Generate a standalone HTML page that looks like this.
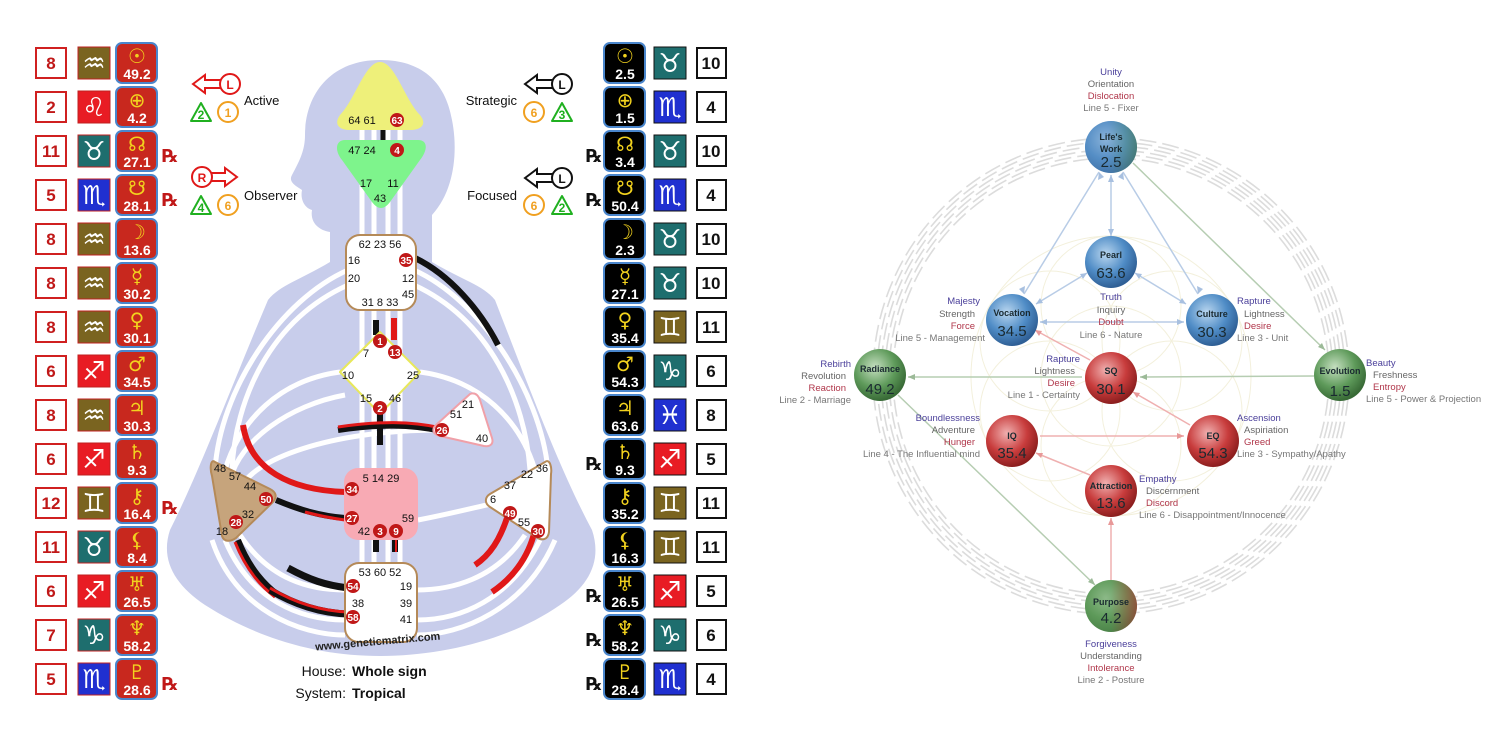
<!DOCTYPE html>
<html><head><meta charset="utf-8"><style>
html,body{margin:0;padding:0;background:#fff}
svg{display:block}
text{font-family:"Liberation Sans","DejaVu Sans",sans-serif}
.nb{fill:#fff;stroke:#d02020;stroke-width:2}
.nt{fill:#c01818;font-weight:bold;font-size:17px;text-anchor:middle}
.nbr{fill:#fff;stroke:#111;stroke-width:2}
.ntr{fill:#111;font-weight:bold;font-size:17px;text-anchor:middle}
.sg{fill:#fff;font-size:26px;font-weight:bold;text-anchor:middle;font-family:"DejaVu Sans",sans-serif}
.pl{fill:#f2d21e;font-size:20px;text-anchor:middle;font-family:"DejaVu Sans",sans-serif}
.pn{fill:#fff;font-size:14px;font-weight:bold;text-anchor:middle}
.rx{fill:#c01818;font-size:18px;font-weight:bold}
.rk{fill:#111;font-size:18px;font-weight:bold}
.g{font-size:11px;fill:#111;text-anchor:middle}
.gw{font-size:10px;fill:#fff;font-weight:bold;text-anchor:middle}
.l{font-size:9.5px;text-anchor:middle}
.b{fill:#4a3f9a}.s{fill:#666}.r{fill:#b0364a}.m{fill:#777}
.nn{font-size:9px;font-weight:bold;fill:#1a2a30;text-anchor:middle}
.nv{font-size:15px;fill:#1a2a30;text-anchor:middle}
</style></head><body>
<svg width="1500" height="750" viewBox="0 0 1500 750" xmlns="http://www.w3.org/2000/svg">
<defs>
<radialGradient id="gb" cx="40%" cy="35%" r="65%"><stop offset="0" stop-color="#b9d6ef"/><stop offset="0.6" stop-color="#4f8cc6"/><stop offset="1" stop-color="#2f5f95"/></radialGradient>
<radialGradient id="gr" cx="40%" cy="35%" r="65%"><stop offset="0" stop-color="#f0b0b0"/><stop offset="0.6" stop-color="#c83c3c"/><stop offset="1" stop-color="#8c1e1e"/></radialGradient>
<radialGradient id="gg" cx="40%" cy="35%" r="65%"><stop offset="0" stop-color="#c5dfc0"/><stop offset="0.6" stop-color="#5e9a5a"/><stop offset="1" stop-color="#386a36"/></radialGradient>
<linearGradient id="gbg" x1="0" y1="0" x2="1" y2="0"><stop offset="0.45" stop-color="#5a8fc4"/><stop offset="1" stop-color="#5c9458"/></linearGradient>
<linearGradient id="ggr" x1="0" y1="0" x2="1" y2="0"><stop offset="0.5" stop-color="#5e9a5a"/><stop offset="1" stop-color="#c83c3c"/></linearGradient>
</defs>

<g fill="#c8cdeb">
<path d="M380 60 C330 60 305 95 305 135 C305 150 300 160 292 175 C288 182 296 186 302 190 C300 200 305 208 312 210 C310 222 318 230 330 232 L330 262 C300 280 280 285 268 300 C230 390 200 470 170 530 C160 560 175 585 205 605 C260 640 320 656 380 656 C440 656 510 640 560 605 C590 585 602 560 592 530 C560 470 530 390 495 300 C483 285 462 280 432 262 L432 215 C455 190 458 150 452 120 C445 80 420 60 380 60 Z"/>
</g>
<g fill="none" stroke="#fff" stroke-width="5">
<line x1="362" y1="128" x2="362" y2="565"/><line x1="374" y1="128" x2="374" y2="565"/><line x1="388" y1="128" x2="388" y2="565"/><line x1="400" y1="128" x2="400" y2="565"/>
<path d="M348 270 C280 300 220 390 215 470"/><path d="M348 285 C270 320 235 400 232 470"/>
<path d="M414 270 C480 300 540 390 548 470"/><path d="M414 285 C490 320 525 400 530 470"/>
<path d="M340 372 C280 380 240 420 225 470"/><path d="M420 372 C480 380 520 420 535 470"/>
<path d="M345 395 C290 405 240 440 230 480"/><path d="M440 430 C330 430 250 460 240 490"/>
<path d="M418 520 C470 510 500 500 520 500"/>
<path d="M225 540 C250 600 300 620 345 620"/><path d="M212 540 C235 610 300 635 345 635"/>
<path d="M540 540 C510 600 460 620 417 620"/><path d="M555 540 C525 610 460 635 417 635"/>
<path d="M240 535 C270 580 310 590 345 590"/><path d="M525 535 C495 580 450 590 417 590"/>
</g>
<g fill="none" stroke-linecap="butt">
<path d="M415 258 C450 275 480 310 498 345" stroke="#111" stroke-width="6"/>
<line x1="376" y1="320" x2="376" y2="335" stroke="#111" stroke-width="6"/>
<line x1="394" y1="318" x2="394" y2="340" stroke="#e01818" stroke-width="6"/>
<line x1="383" y1="130" x2="383" y2="140" stroke="#111" stroke-width="5"/>
<line x1="383" y1="140" x2="383" y2="150" stroke="#e01818" stroke-width="5"/>
<line x1="380" y1="413" x2="380" y2="445" stroke="#111" stroke-width="6"/>
<path d="M338 430 C380 424 410 424 442 431" stroke="#111" stroke-width="6"/>
<path d="M338 427 C380 421 410 421 442 428" stroke="#e01818" stroke-width="3"/>
<path d="M243 425 C250 470 290 490 345 492" stroke="#e01818" stroke-width="6"/>
<path d="M276 500 C300 510 320 516 345 518" stroke="#111" stroke-width="6"/>
<path d="M305 512 C320 516 330 518 345 520" stroke="#e01818" stroke-width="3"/>
<line x1="376" y1="540" x2="376" y2="552" stroke="#111" stroke-width="6"/>
<line x1="395" y1="540" x2="395" y2="552" stroke="#111" stroke-width="6"/>
<line x1="396" y1="540" x2="396" y2="552" stroke="#e01818" stroke-width="2"/>
<path d="M238 540 C250 570 265 585 278 595" stroke="#111" stroke-width="6"/>
<path d="M235 542 C247 572 262 587 275 597" stroke="#e01818" stroke-width="3"/>
<path d="M288 568 C310 580 325 585 348 588" stroke="#111" stroke-width="7"/>
<path d="M270 590 C295 605 320 613 348 614" stroke="#111" stroke-width="7"/>
<path d="M270 588 C295 603 320 611 348 612" stroke="#e01818" stroke-width="3"/>
<path d="M508 515 C500 540 490 555 475 565" stroke="#e01818" stroke-width="6"/>
<path d="M535 530 C528 560 510 580 492 592" stroke="#e01818" stroke-width="6"/>
</g>
<path d="M380 62 C395 62 405 100 420 115 C428 125 420 130 410 130 L350 130 C340 130 333 125 340 115 C355 100 365 62 380 62 Z" fill="#eef07a"/>
<path d="M345 140 L418 140 C428 140 428 150 420 160 L390 202 C384 210 378 210 372 202 L342 160 C334 150 336 140 345 140 Z" fill="#7ef48c"/>
<rect x="346" y="235" width="70" height="75" rx="14" fill="#fff" stroke="#b58a58" stroke-width="2"/>
<path d="M380 332 L420 372 L380 414 L340 372 Z" fill="#fff" stroke="#e8e85a" stroke-width="2" stroke-linejoin="round"/>
<path d="M470 394 C475 392 478 395 480 400 L492 438 C494 444 490 447 484 446 L440 436 C432 434 432 429 436 425 Z" fill="#fff" stroke="#f0a0a8" stroke-width="2" stroke-linejoin="round"/>
<rect x="344" y="468" width="74" height="72" rx="14" fill="#f8aab4"/>
<path d="M215 462 C210 458 210 470 212 476 L222 536 C224 542 230 542 236 538 L272 503 C278 497 276 492 270 489 Z" fill="#c6a47c" stroke="#b58a58" stroke-width="2"/>
<path d="M545 462 C550 458 552 468 551 474 L549 532 C548 540 542 541 536 537 L490 507 C484 503 485 497 490 494 Z" fill="#fff" stroke="#b58a58" stroke-width="2"/>
<rect x="345" y="563" width="72" height="79" rx="14" fill="#fff" stroke="#b58a58" stroke-width="2"/>
<g class="g">
<text x="362" y="124">64 61</text><circle cx="397" cy="120" r="7" fill="#c01818"/><text class="gw" x="397" y="124">63</text>
<text x="362" y="154">47 24</text><circle cx="397" cy="150" r="7" fill="#c01818"/><text class="gw" x="397" y="154">4</text>
<text x="366" y="187">17</text><text x="393" y="187">11</text><text x="380" y="202">43</text>
<text x="380" y="248">62 23 56</text><text x="354" y="264">16</text><text x="354" y="282">20</text><text x="408" y="282">12</text><text x="408" y="298">45</text><text x="380" y="306">31  8  33</text>
<circle cx="406" cy="260" r="7" fill="#c01818"/><text class="gw" x="406" y="264">35</text>
<circle cx="380" cy="341" r="7" fill="#c01818"/><text class="gw" x="380" y="345">1</text>
<circle cx="395" cy="352" r="7" fill="#c01818"/><text class="gw" x="395" y="356">13</text>
<text x="366" y="357">7</text><text x="348" y="379">10</text><text x="413" y="379">25</text><text x="366" y="402">15</text><text x="395" y="402">46</text>
<circle cx="380" cy="408" r="7" fill="#c01818"/><text class="gw" x="380" y="412">2</text>
<text x="468" y="408">21</text><text x="456" y="418">51</text><text x="482" y="442">40</text>
<circle cx="442" cy="430" r="7" fill="#c01818"/><text class="gw" x="442" y="434">26</text>
<text x="381" y="482">5  14 29</text><text x="408" y="522">59</text><text x="364" y="535">42</text>
<circle cx="352" cy="489" r="7" fill="#c01818"/><text class="gw" x="352" y="493">34</text>
<circle cx="352" cy="518" r="7" fill="#c01818"/><text class="gw" x="352" y="522">27</text>
<circle cx="380" cy="531" r="7" fill="#c01818"/><text class="gw" x="380" y="535">3</text>
<circle cx="396" cy="531" r="7" fill="#c01818"/><text class="gw" x="396" y="535">9</text>
<text x="220" y="472">48</text><text x="235" y="480">57</text><text x="250" y="490">44</text><text x="248" y="518">32</text><text x="222" y="535">18</text>
<circle cx="266" cy="499" r="7" fill="#c01818"/><text class="gw" x="266" y="503">50</text>
<circle cx="236" cy="522" r="7" fill="#c01818"/><text class="gw" x="236" y="526">28</text>
<text x="542" y="472">36</text><text x="527" y="478">22</text><text x="510" y="489">37</text><text x="493" y="503">6</text><text x="524" y="526">55</text>
<circle cx="510" cy="513" r="7" fill="#c01818"/><text class="gw" x="510" y="517">49</text>
<circle cx="538" cy="531" r="7" fill="#c01818"/><text class="gw" x="538" y="535">30</text>
<text x="380" y="576">53 60 52</text><text x="406" y="590">19</text><text x="358" y="607">38</text><text x="406" y="607">39</text><text x="406" y="623">41</text>
<circle cx="353" cy="586" r="7" fill="#c01818"/><text class="gw" x="353" y="590">54</text>
<circle cx="353" cy="617" r="7" fill="#c01818"/><text class="gw" x="353" y="621">58</text>
</g>
<text x="378" y="645" font-size="11" font-weight="bold" fill="#222" text-anchor="middle" transform="rotate(-5 378 645)">www.geneticmatrix.com</text>
<text x="346" y="676" font-size="14" fill="#111" text-anchor="end">House:</text><text x="352" y="676" font-size="14" font-weight="bold" fill="#111">Whole sign</text>
<text x="346" y="698" font-size="14" fill="#111" text-anchor="end">System:</text><text x="352" y="698" font-size="14" font-weight="bold" fill="#111">Tropical</text>

<g fill="#fff" stroke-width="2">
<path d="M193 84 L205 75 L205 80 L222 80 L222 88 L205 88 L205 93 Z" stroke="#e01818"/><circle cx="230" cy="84" r="10" stroke="#e01818"/>
<path d="M237 177 L225 168 L225 173 L210 173 L210 181 L225 181 L225 186 Z" stroke="#e01818"/><circle cx="202" cy="177" r="10" stroke="#e01818"/>
<path d="M525 84 L537 75 L537 80 L554 80 L554 88 L537 88 L537 93 Z" stroke="#111"/><circle cx="562" cy="84" r="10" stroke="#111"/>
<path d="M525 178 L537 169 L537 174 L554 174 L554 182 L537 182 L537 187 Z" stroke="#111"/><circle cx="562" cy="178" r="10" stroke="#111"/>
<path d="M201 103 L211 121 L191 121 Z" stroke="#20b020" stroke-linejoin="round"/><circle cx="228" cy="112" r="10" stroke="#f0a020"/>
<path d="M201 196 L211 214 L191 214 Z" stroke="#20b020" stroke-linejoin="round"/><circle cx="228" cy="205" r="10" stroke="#f0a020"/>
<circle cx="534" cy="112" r="10" stroke="#f0a020"/><path d="M562 103 L572 121 L552 121 Z" stroke="#20b020" stroke-linejoin="round"/>
<circle cx="534" cy="205" r="10" stroke="#f0a020"/><path d="M562 196 L572 214 L552 214 Z" stroke="#20b020" stroke-linejoin="round"/>
</g>
<g font-size="12" font-weight="bold" text-anchor="middle">
<text x="230" y="89" fill="#e01818">L</text><text x="202" y="182" fill="#e01818">R</text><text x="562" y="89" fill="#111">L</text><text x="562" y="183" fill="#111">L</text>
<text x="201" y="119" fill="#20b020">2</text><text x="228" y="117" fill="#f0a020">1</text>
<text x="201" y="212" fill="#20b020">4</text><text x="228" y="210" fill="#f0a020">6</text>
<text x="534" y="117" fill="#f0a020">6</text><text x="562" y="119" fill="#20b020">3</text>
<text x="534" y="210" fill="#f0a020">6</text><text x="562" y="212" fill="#20b020">2</text>
</g>
<g font-size="13" fill="#111"><text x="244" y="105">Active</text><text x="244" y="200">Observer</text><text x="517" y="105" text-anchor="end">Strategic</text><text x="517" y="200" text-anchor="end">Focused</text></g>

<g id="left">
<rect class="nb" x="36" y="48" width="30" height="30"/><text class="nt" x="51" y="69">8</text><rect x="78" y="47" width="32" height="32" fill="#7a6420" stroke="#c02020"/><text class="sg" x="94" y="72">♒</text><rect x="116" y="43" width="41" height="40" rx="6" fill="#c8281e" stroke="#4a86cc" stroke-width="2"/><text class="pl" x="137" y="63">☉</text><text class="pn" x="137" y="79">49.2</text>
<rect class="nb" x="36" y="92" width="30" height="30"/><text class="nt" x="51" y="113">2</text><rect x="78" y="91" width="32" height="32" fill="#e81c24" stroke="#c02020"/><text class="sg" x="94" y="116">♌</text><rect x="116" y="87" width="41" height="40" rx="6" fill="#c8281e" stroke="#4a86cc" stroke-width="2"/><text class="pl" x="137" y="107">⊕</text><text class="pn" x="137" y="123">4.2</text>
<rect class="nb" x="36" y="136" width="30" height="30"/><text class="nt" x="51" y="157">11</text><rect x="78" y="135" width="32" height="32" fill="#1e6e6e" stroke="#c02020"/><text class="sg" x="94" y="160">♉</text><rect x="116" y="131" width="41" height="40" rx="6" fill="#c8281e" stroke="#4a86cc" stroke-width="2"/><text class="pl" x="137" y="151">☊</text><text class="pn" x="137" y="167">27.1</text><text class="rx" x="162" y="162">℞</text>
<rect class="nb" x="36" y="180" width="30" height="30"/><text class="nt" x="51" y="201">5</text><rect x="78" y="179" width="32" height="32" fill="#2030d0" stroke="#c02020"/><text class="sg" x="94" y="204">♏</text><rect x="116" y="175" width="41" height="40" rx="6" fill="#c8281e" stroke="#4a86cc" stroke-width="2"/><text class="pl" x="137" y="195">☋</text><text class="pn" x="137" y="211">28.1</text><text class="rx" x="162" y="206">℞</text>
<rect class="nb" x="36" y="224" width="30" height="30"/><text class="nt" x="51" y="245">8</text><rect x="78" y="223" width="32" height="32" fill="#7a6420" stroke="#c02020"/><text class="sg" x="94" y="248">♒</text><rect x="116" y="219" width="41" height="40" rx="6" fill="#c8281e" stroke="#4a86cc" stroke-width="2"/><text class="pl" x="137" y="239">☽</text><text class="pn" x="137" y="255">13.6</text>
<rect class="nb" x="36" y="268" width="30" height="30"/><text class="nt" x="51" y="289">8</text><rect x="78" y="267" width="32" height="32" fill="#7a6420" stroke="#c02020"/><text class="sg" x="94" y="292">♒</text><rect x="116" y="263" width="41" height="40" rx="6" fill="#c8281e" stroke="#4a86cc" stroke-width="2"/><text class="pl" x="137" y="283">☿</text><text class="pn" x="137" y="299">30.2</text>
<rect class="nb" x="36" y="312" width="30" height="30"/><text class="nt" x="51" y="333">8</text><rect x="78" y="311" width="32" height="32" fill="#7a6420" stroke="#c02020"/><text class="sg" x="94" y="336">♒</text><rect x="116" y="307" width="41" height="40" rx="6" fill="#c8281e" stroke="#4a86cc" stroke-width="2"/><text class="pl" x="137" y="327">♀</text><text class="pn" x="137" y="343">30.1</text>
<rect class="nb" x="36" y="356" width="30" height="30"/><text class="nt" x="51" y="377">6</text><rect x="78" y="355" width="32" height="32" fill="#e81c24" stroke="#c02020"/><text class="sg" x="94" y="380">♐</text><rect x="116" y="351" width="41" height="40" rx="6" fill="#c8281e" stroke="#4a86cc" stroke-width="2"/><text class="pl" x="137" y="371">♂</text><text class="pn" x="137" y="387">34.5</text>
<rect class="nb" x="36" y="400" width="30" height="30"/><text class="nt" x="51" y="421">8</text><rect x="78" y="399" width="32" height="32" fill="#7a6420" stroke="#c02020"/><text class="sg" x="94" y="424">♒</text><rect x="116" y="395" width="41" height="40" rx="6" fill="#c8281e" stroke="#4a86cc" stroke-width="2"/><text class="pl" x="137" y="415">♃</text><text class="pn" x="137" y="431">30.3</text>
<rect class="nb" x="36" y="444" width="30" height="30"/><text class="nt" x="51" y="465">6</text><rect x="78" y="443" width="32" height="32" fill="#e81c24" stroke="#c02020"/><text class="sg" x="94" y="468">♐</text><rect x="116" y="439" width="41" height="40" rx="6" fill="#c8281e" stroke="#4a86cc" stroke-width="2"/><text class="pl" x="137" y="459">♄</text><text class="pn" x="137" y="475">9.3</text>
<rect class="nb" x="36" y="488" width="30" height="30"/><text class="nt" x="51" y="509">12</text><rect x="78" y="487" width="32" height="32" fill="#7a6420" stroke="#c02020"/><text class="sg" x="94" y="512">♊</text><rect x="116" y="483" width="41" height="40" rx="6" fill="#c8281e" stroke="#4a86cc" stroke-width="2"/><text class="pl" x="137" y="503">⚷</text><text class="pn" x="137" y="519">16.4</text><text class="rx" x="162" y="514">℞</text>
<rect class="nb" x="36" y="532" width="30" height="30"/><text class="nt" x="51" y="553">11</text><rect x="78" y="531" width="32" height="32" fill="#1e6e6e" stroke="#c02020"/><text class="sg" x="94" y="556">♉</text><rect x="116" y="527" width="41" height="40" rx="6" fill="#c8281e" stroke="#4a86cc" stroke-width="2"/><text class="pl" x="137" y="547">⚸</text><text class="pn" x="137" y="563">8.4</text>
<rect class="nb" x="36" y="576" width="30" height="30"/><text class="nt" x="51" y="597">6</text><rect x="78" y="575" width="32" height="32" fill="#e81c24" stroke="#c02020"/><text class="sg" x="94" y="600">♐</text><rect x="116" y="571" width="41" height="40" rx="6" fill="#c8281e" stroke="#4a86cc" stroke-width="2"/><text class="pl" x="137" y="591">♅</text><text class="pn" x="137" y="607">26.5</text>
<rect class="nb" x="36" y="620" width="30" height="30"/><text class="nt" x="51" y="641">7</text><rect x="78" y="619" width="32" height="32" fill="#1e6e6e" stroke="#c02020"/><text class="sg" x="94" y="644">♑</text><rect x="116" y="615" width="41" height="40" rx="6" fill="#c8281e" stroke="#4a86cc" stroke-width="2"/><text class="pl" x="137" y="635">♆</text><text class="pn" x="137" y="651">58.2</text>
<rect class="nb" x="36" y="664" width="30" height="30"/><text class="nt" x="51" y="685">5</text><rect x="78" y="663" width="32" height="32" fill="#2030d0" stroke="#c02020"/><text class="sg" x="94" y="688">♏</text><rect x="116" y="659" width="41" height="40" rx="6" fill="#c8281e" stroke="#4a86cc" stroke-width="2"/><text class="pl" x="137" y="679">♇</text><text class="pn" x="137" y="695">28.6</text><text class="rx" x="162" y="690">℞</text>
</g>

<g id="right">
<rect x="604" y="43" width="41" height="40" rx="6" fill="#000" stroke="#4a86cc" stroke-width="2"/><text class="pl" x="625" y="63">☉</text><text class="pn" x="625" y="79">2.5</text><rect x="654" y="47" width="32" height="32" fill="#1e6e6e" stroke="#111"/><text class="sg" x="670" y="72">♉</text><rect class="nbr" x="697" y="48" width="29" height="30"/><text class="ntr" x="711" y="69">10</text>
<rect x="604" y="87" width="41" height="40" rx="6" fill="#000" stroke="#4a86cc" stroke-width="2"/><text class="pl" x="625" y="107">⊕</text><text class="pn" x="625" y="123">1.5</text><rect x="654" y="91" width="32" height="32" fill="#2030d0" stroke="#111"/><text class="sg" x="670" y="116">♏</text><rect class="nbr" x="697" y="92" width="29" height="30"/><text class="ntr" x="711" y="113">4</text>
<rect x="604" y="131" width="41" height="40" rx="6" fill="#000" stroke="#4a86cc" stroke-width="2"/><text class="pl" x="625" y="151">☊</text><text class="pn" x="625" y="167">3.4</text><rect x="654" y="135" width="32" height="32" fill="#1e6e6e" stroke="#111"/><text class="sg" x="670" y="160">♉</text><rect class="nbr" x="697" y="136" width="29" height="30"/><text class="ntr" x="711" y="157">10</text><text class="rk" x="586" y="162">℞</text>
<rect x="604" y="175" width="41" height="40" rx="6" fill="#000" stroke="#4a86cc" stroke-width="2"/><text class="pl" x="625" y="195">☋</text><text class="pn" x="625" y="211">50.4</text><rect x="654" y="179" width="32" height="32" fill="#2030d0" stroke="#111"/><text class="sg" x="670" y="204">♏</text><rect class="nbr" x="697" y="180" width="29" height="30"/><text class="ntr" x="711" y="201">4</text><text class="rk" x="586" y="206">℞</text>
<rect x="604" y="219" width="41" height="40" rx="6" fill="#000" stroke="#4a86cc" stroke-width="2"/><text class="pl" x="625" y="239">☽</text><text class="pn" x="625" y="255">2.3</text><rect x="654" y="223" width="32" height="32" fill="#1e6e6e" stroke="#111"/><text class="sg" x="670" y="248">♉</text><rect class="nbr" x="697" y="224" width="29" height="30"/><text class="ntr" x="711" y="245">10</text>
<rect x="604" y="263" width="41" height="40" rx="6" fill="#000" stroke="#4a86cc" stroke-width="2"/><text class="pl" x="625" y="283">☿</text><text class="pn" x="625" y="299">27.1</text><rect x="654" y="267" width="32" height="32" fill="#1e6e6e" stroke="#111"/><text class="sg" x="670" y="292">♉</text><rect class="nbr" x="697" y="268" width="29" height="30"/><text class="ntr" x="711" y="289">10</text>
<rect x="604" y="307" width="41" height="40" rx="6" fill="#000" stroke="#4a86cc" stroke-width="2"/><text class="pl" x="625" y="327">♀</text><text class="pn" x="625" y="343">35.4</text><rect x="654" y="311" width="32" height="32" fill="#7a6420" stroke="#111"/><text class="sg" x="670" y="336">♊</text><rect class="nbr" x="697" y="312" width="29" height="30"/><text class="ntr" x="711" y="333">11</text>
<rect x="604" y="351" width="41" height="40" rx="6" fill="#000" stroke="#4a86cc" stroke-width="2"/><text class="pl" x="625" y="371">♂</text><text class="pn" x="625" y="387">54.3</text><rect x="654" y="355" width="32" height="32" fill="#1e6e6e" stroke="#111"/><text class="sg" x="670" y="380">♑</text><rect class="nbr" x="697" y="356" width="29" height="30"/><text class="ntr" x="711" y="377">6</text>
<rect x="604" y="395" width="41" height="40" rx="6" fill="#000" stroke="#4a86cc" stroke-width="2"/><text class="pl" x="625" y="415">♃</text><text class="pn" x="625" y="431">63.6</text><rect x="654" y="399" width="32" height="32" fill="#2030d0" stroke="#111"/><text class="sg" x="670" y="424">♓</text><rect class="nbr" x="697" y="400" width="29" height="30"/><text class="ntr" x="711" y="421">8</text>
<rect x="604" y="439" width="41" height="40" rx="6" fill="#000" stroke="#4a86cc" stroke-width="2"/><text class="pl" x="625" y="459">♄</text><text class="pn" x="625" y="475">9.3</text><rect x="654" y="443" width="32" height="32" fill="#e81c24" stroke="#111"/><text class="sg" x="670" y="468">♐</text><rect class="nbr" x="697" y="444" width="29" height="30"/><text class="ntr" x="711" y="465">5</text><text class="rk" x="586" y="470">℞</text>
<rect x="604" y="483" width="41" height="40" rx="6" fill="#000" stroke="#4a86cc" stroke-width="2"/><text class="pl" x="625" y="503">⚷</text><text class="pn" x="625" y="519">35.2</text><rect x="654" y="487" width="32" height="32" fill="#7a6420" stroke="#111"/><text class="sg" x="670" y="512">♊</text><rect class="nbr" x="697" y="488" width="29" height="30"/><text class="ntr" x="711" y="509">11</text>
<rect x="604" y="527" width="41" height="40" rx="6" fill="#000" stroke="#4a86cc" stroke-width="2"/><text class="pl" x="625" y="547">⚸</text><text class="pn" x="625" y="563">16.3</text><rect x="654" y="531" width="32" height="32" fill="#7a6420" stroke="#111"/><text class="sg" x="670" y="556">♊</text><rect class="nbr" x="697" y="532" width="29" height="30"/><text class="ntr" x="711" y="553">11</text>
<rect x="604" y="571" width="41" height="40" rx="6" fill="#000" stroke="#4a86cc" stroke-width="2"/><text class="pl" x="625" y="591">♅</text><text class="pn" x="625" y="607">26.5</text><rect x="654" y="575" width="32" height="32" fill="#e81c24" stroke="#111"/><text class="sg" x="670" y="600">♐</text><rect class="nbr" x="697" y="576" width="29" height="30"/><text class="ntr" x="711" y="597">5</text><text class="rk" x="586" y="602">℞</text>
<rect x="604" y="615" width="41" height="40" rx="6" fill="#000" stroke="#4a86cc" stroke-width="2"/><text class="pl" x="625" y="635">♆</text><text class="pn" x="625" y="651">58.2</text><rect x="654" y="619" width="32" height="32" fill="#1e6e6e" stroke="#111"/><text class="sg" x="670" y="644">♑</text><rect class="nbr" x="697" y="620" width="29" height="30"/><text class="ntr" x="711" y="641">6</text><text class="rk" x="586" y="646">℞</text>
<rect x="604" y="659" width="41" height="40" rx="6" fill="#000" stroke="#4a86cc" stroke-width="2"/><text class="pl" x="625" y="679">♇</text><text class="pn" x="625" y="695">28.4</text><rect x="654" y="663" width="32" height="32" fill="#2030d0" stroke="#111"/><text class="sg" x="670" y="688">♏</text><rect class="nbr" x="697" y="664" width="29" height="30"/><text class="ntr" x="711" y="685">4</text><text class="rk" x="586" y="690">℞</text>
</g>

<g fill="none" stroke="#dcdcdc" stroke-width="1.6" stroke-dasharray="17 6">
<circle cx="1111" cy="376" r="218"/><circle cx="1111" cy="376" r="222"/><circle cx="1111" cy="376" r="226"/><circle cx="1111" cy="376" r="230"/><circle cx="1111" cy="376" r="234"/><circle cx="1111" cy="376" r="238"/>
</g>
<g fill="none" stroke="#f3f0dc" stroke-width="1">
<circle cx="1111" cy="376" r="70"/><circle cx="1111" cy="306" r="70"/><circle cx="1111" cy="446" r="70"/><circle cx="1050" cy="341" r="70"/><circle cx="1172" cy="341" r="70"/><circle cx="1050" cy="411" r="70"/><circle cx="1172" cy="411" r="70"/>
<circle cx="1111" cy="376" r="140"/>
</g>
<g stroke-width="1.5" fill="none">
<g stroke="#b8cce6">
<line x1="1099" y1="172" x2="1024" y2="294"/><line x1="1111" y1="175" x2="1111" y2="236"/><line x1="1123" y1="172" x2="1198" y2="294"/>
<line x1="1087" y1="273" x2="1036" y2="304"/><line x1="1135" y1="273" x2="1186" y2="304"/><line x1="1040" y1="322" x2="1184" y2="322"/>
</g>
<g stroke="#b6cdb2"><line x1="1133" y1="163" x2="1325" y2="350"/><line x1="1314" y1="376" x2="1140" y2="377"/><line x1="1082" y1="377" x2="908" y2="377"/><line x1="898" y1="395" x2="1095" y2="585"/></g>
<g stroke="#efb0b0"><line x1="1090" y1="360" x2="1035" y2="330"/><line x1="1190" y1="425" x2="1133" y2="392"/><line x1="1040" y1="436" x2="1184" y2="436"/><line x1="1090" y1="475" x2="1036" y2="453"/><line x1="1111" y1="580" x2="1111" y2="518"/></g>
</g>
<g>
<g fill="#a8c0e0"><path d="M1099 172 l-1 8 l6 -3z"/><path d="M1024 294 l1 -8 l-6 3z"/><path d="M1111 175 l-3 7 h6z"/><path d="M1111 236 l-3 -7 h6z"/><path d="M1123 172 l1 8 l-6 -3z"/><path d="M1198 294 l-1 -8 l6 3z"/><path d="M1087 273 l-7 1 l3 5z"/><path d="M1036 304 l7 -1 l-3 -5z"/><path d="M1135 273 l7 1 l-3 5z"/><path d="M1186 304 l-7 -1 l3 -5z"/><path d="M1040 322 l7 -3 v6z"/><path d="M1184 322 l-7 -3 v6z"/></g>
<g fill="#9cba98"><path d="M1325 350 l-3 -7 l-4 4z"/><path d="M1140 377 l7 -3 v6z"/><path d="M908 377 l7 -3 v6z"/><path d="M1095 585 l-3 -7 l-4 4z"/></g>
<g fill="#e89898"><path d="M1035 330 l7 1 l-3 5z"/><path d="M1133 392 l7 1 l-3 5z"/><path d="M1184 436 l-7 -3 v6z"/><path d="M1036 453 l7 0 l-2 5z"/><path d="M1111 518 l-3 7 h6z"/></g>
</g>
<circle cx="1111" cy="147" r="26" fill="url(#gbg)"/><circle cx="1111" cy="147" r="26" fill="url(#gb)" opacity="0.5"/>
<circle cx="1111" cy="262" r="26" fill="url(#gb)"/>
<circle cx="1012" cy="320" r="26" fill="url(#gb)"/>
<circle cx="1212" cy="320" r="26" fill="url(#gb)"/>
<circle cx="880" cy="375" r="26" fill="url(#gg)"/>
<circle cx="1111" cy="378" r="26" fill="url(#gr)"/>
<circle cx="1340" cy="375" r="26" fill="url(#gg)"/>
<circle cx="1012" cy="441" r="26" fill="url(#gr)"/>
<circle cx="1213" cy="441" r="26" fill="url(#gr)"/>
<circle cx="1111" cy="491" r="26" fill="url(#gr)"/>
<circle cx="1111" cy="606" r="26" fill="url(#ggr)"/><circle cx="1111" cy="606" r="26" fill="url(#gg)" opacity="0.45"/>
<g>
<text class="nn" x="1111" y="140">Life's</text><text class="nn" x="1111" y="152">Work</text><text class="nv" x="1111" y="167">2.5</text>
<text class="nn" x="1111" y="258">Pearl</text><text class="nv" x="1111" y="278">63.6</text>
<text class="nn" x="1012" y="316">Vocation</text><text class="nv" x="1012" y="336">34.5</text>
<text class="nn" x="1212" y="317">Culture</text><text class="nv" x="1212" y="337">30.3</text>
<text class="nn" x="880" y="372">Radiance</text><text class="nv" x="880" y="394">49.2</text>
<text class="nn" x="1111" y="374">SQ</text><text class="nv" x="1111" y="394">30.1</text>
<text class="nn" x="1340" y="374">Evolution</text><text class="nv" x="1340" y="396">1.5</text>
<text class="nn" x="1012" y="439">IQ</text><text class="nv" x="1012" y="458">35.4</text>
<text class="nn" x="1213" y="439">EQ</text><text class="nv" x="1213" y="458">54.3</text>
<text class="nn" x="1111" y="489">Attraction</text><text class="nv" x="1111" y="508">13.6</text>
<text class="nn" x="1111" y="605">Purpose</text><text class="nv" x="1111" y="623">4.2</text>
</g>
<g class="l">
<text class="b" x="1111" y="75">Unity</text><text class="s" x="1111" y="87">Orientation</text><text class="r" x="1111" y="99">Dislocation</text><text class="m" x="1111" y="111">Line 5 - Fixer</text>
<text class="b" x="1111" y="300">Truth</text><text class="s" x="1111" y="313">Inquiry</text><text class="r" x="1111" y="325">Doubt</text><text class="m" x="1111" y="338">Line 6 - Nature</text>
</g>
<g class="l">
<text class="b" x="980" y="304" text-anchor="end">Majesty</text><text class="s" x="975" y="317" text-anchor="end">Strength</text><text class="r" x="975" y="329" text-anchor="end">Force</text><text class="m" x="985" y="341" text-anchor="end">Line 5 - Management</text>
<text class="b" x="851" y="367" text-anchor="end">Rebirth</text><text class="s" x="846" y="379" text-anchor="end">Revolution</text><text class="r" x="846" y="391" text-anchor="end">Reaction</text><text class="m" x="851" y="403" text-anchor="end">Line 2 - Marriage</text>
<text class="b" x="1080" y="362" text-anchor="end">Rapture</text><text class="s" x="1075" y="374" text-anchor="end">Lightness</text><text class="r" x="1075" y="386" text-anchor="end">Desire</text><text class="m" x="1080" y="398" text-anchor="end">Line 1 - Certainty</text>
<text class="b" x="980" y="421" text-anchor="end">Boundlessness</text><text class="s" x="975" y="433" text-anchor="end">Adventure</text><text class="r" x="975" y="445" text-anchor="end">Hunger</text><text class="m" x="980" y="457" text-anchor="end">Line 4 - The Influential mind</text>
</g>
<g class="l">
<text class="b" x="1237" y="304" text-anchor="start">Rapture</text><text class="s" x="1244" y="317" text-anchor="start">Lightness</text><text class="r" x="1244" y="329" text-anchor="start">Desire</text><text class="m" x="1237" y="341" text-anchor="start">Line 3 - Unit</text>
<text class="b" x="1366" y="366" text-anchor="start">Beauty</text><text class="s" x="1373" y="378" text-anchor="start">Freshness</text><text class="r" x="1373" y="390" text-anchor="start">Entropy</text><text class="m" x="1366" y="402" text-anchor="start">Line 5 - Power &amp; Projection</text>
<text class="b" x="1237" y="421" text-anchor="start">Ascension</text><text class="s" x="1244" y="433" text-anchor="start">Aspiriation</text><text class="r" x="1244" y="445" text-anchor="start">Greed</text><text class="m" x="1237" y="457" text-anchor="start">Line 3 - Sympathy/Apathy</text>
<text class="b" x="1139" y="482" text-anchor="start">Empathy</text><text class="s" x="1146" y="494" text-anchor="start">Discernment</text><text class="r" x="1146" y="506" text-anchor="start">Discord</text><text class="m" x="1139" y="518" text-anchor="start">Line 6 - Disappointment/Innocence</text>
</g>
<g class="l">
<text class="b" x="1111" y="647">Forgiveness</text><text class="s" x="1111" y="659">Understanding</text><text class="r" x="1111" y="671">Intolerance</text><text class="m" x="1111" y="683">Line 2 - Posture</text>
</g>
</svg>
</body></html>
